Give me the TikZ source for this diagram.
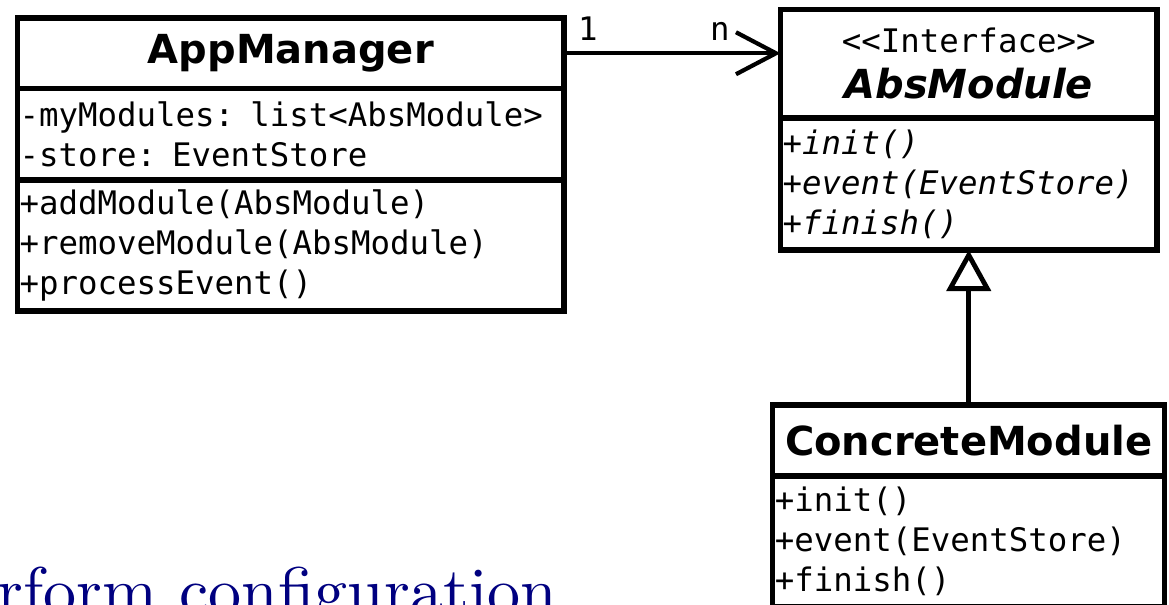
\documentclass[tikz,border=0pt]{standalone}
\usepackage{fontspec}
\usepackage{xcolor}
\usepackage{tikz}
\usetikzlibrary{arrows.meta, positioning}
\newfontfamily\umlsans{DejaVu Sans}
\newfontfamily\umlmono{DejaVu Sans Mono}
\newfontfamily\slidefont{lmroman10-regular.otf}
\definecolor{umlblack}{RGB}{0,0,0}
\definecolor{slidenavy}{RGB}{0,0,128}

\begin{document}
\begin{tikzpicture}[
  x=0.5pt, y=-0.5pt,
  classname/.style={draw=umlblack, line width=2.6pt, outer sep=0pt, inner sep=0pt,
                    font=\umlsans\bfseries\fontsize{20}{23}\selectfont, align=center},
  members/.style={draw=umlblack, line width=2.6pt, outer sep=0pt, inner xsep=1pt, inner ysep=0pt,
                  font=\umlmono\fontsize{16.2}{20}\selectfont, align=left},
  assoc/.style={-{Straight Barb[length=20pt, width=21pt]}, line width=2.1pt, color=umlblack},
  inherit/.style={-{Triangle[open, length=20.5pt, width=22pt]}, line width=2.4pt, color=umlblack},
  mult/.style={font=\umlmono\fontsize{16.2}{20}\selectfont, inner sep=5.4pt}
]
  \useasboundingbox (0,0) rectangle (1169,605);
  \clip (0,0) rectangle (1169,605);

  \node[classname, anchor=north west, minimum width=273.25pt, minimum height=35.25pt]
    (apptitle) at (17.5,18) {AppManager};
  \node[members, below=0pt of apptitle, text width=271.25pt, minimum height=45.75pt]
    (appattr) {-myModules: list<AbsModule>\\-store: EventStore};
  \node[members, below=0pt of appattr, text width=271.25pt, minimum height=65.5pt]
    (appmeth) {+addModule(AbsModule)\\+removeModule(AbsModule)\\+processEvent()};

  \node[classname, anchor=north west, minimum width=188.25pt, minimum height=54.25pt]
    (abstitle) at (780.5,9.5)
    {{\mdseries\umlmono\fontsize{16.2}{20}\selectfont <\kern0pt<Interface>\kern0pt>}\\{\itshape AbsModule}};
  \node[members, below=0pt of abstitle, text width=186.25pt, minimum height=66pt,
        font=\umlmono\itshape\fontsize{16.2}{20}\selectfont]
    (absmeth) {+init()\\+event(EventStore)\\+finish()};

  \node[classname, below=77.5pt of absmeth, minimum width=196pt, minimum height=35.5pt]
    (contitle) {ConcreteModule};
  \node[members, below=0pt of contitle, text width=194pt, minimum height=65.5pt]
    (conmeth) {+init()\\+event(EventStore)\\+finish()};

  \draw[assoc] (apptitle.east) -- node[mult, pos=0.11, above] {1}
    node[mult, pos=0.72, above] {n} (apptitle.east -| abstitle.west);
  \draw[inherit] (contitle.north) -- (absmeth.south);

  \node[anchor=base west, inner sep=0pt, text=slidenavy, font=\slidefont\fontsize{33}{40}\selectfont]
    (cfgtext) at (-3,613) {rform configuration};
\end{tikzpicture}
\end{document}
